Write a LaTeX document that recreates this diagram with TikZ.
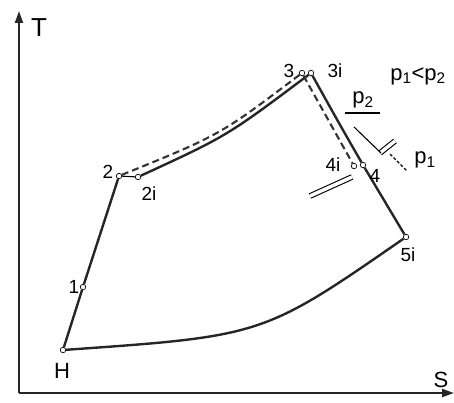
\documentclass[tikz,border=0pt]{standalone}
\usepackage{fontspec}
\setmainfont{Liberation Sans}
\usetikzlibrary{arrows.meta,backgrounds}
\begin{document}
\begin{tikzpicture}[x=1pt,y=-1pt,
  pt/.style={circle,draw,fill=white,inner sep=0pt,minimum size=5.5pt,line width=0.7pt},
  lbl/.style={font=\fontsize{19}{19}\selectfont,inner sep=0pt},
  big/.style={font=\fontsize{22}{22}\selectfont,inner sep=0pt},
  curve/.style={line width=2.4pt,draw=black!85},
  dcurve/.style={line width=2.1pt,draw=black!80,dash pattern=on 7pt off 4pt},
  axis/.style={line width=2pt,draw=black!85,-{Triangle[length=12pt,width=8pt]}},
  iso/.style={double distance=3.5pt,line width=1.1pt},
  thinl/.style={line width=1.1pt},
  leader/.style={line width=1.1pt,dash pattern=on 3pt off 2pt}]
\useasboundingbox (0,0) rectangle (454,403);
% points
\node[pt] (H) at (63,350) {};
\node[pt] (n1) at (83,287) {};
\node[pt] (n2) at (119,176) {};
\node[pt] (n2i) at (138,177) {};
\node[pt] (n3) at (302,73) {};
\node[pt] (n3i) at (311,73) {};
\node[pt] (n4i) at (354,166) {};
\node[pt] (n4) at (363,165) {};
\node[pt] (n5i) at (406,237) {};
% helper coordinates
\coordinate (O) at (19,393);
\coordinate (Ty) at (19,11);
\coordinate (Sx) at (454,393);
\coordinate (a1) at (310,196);
\coordinate (a2) at (352,177);
\coordinate (b1) at (380,153);
\coordinate (b2) at (395,141);
\coordinate (c1) at (354,127);
\coordinate (c2) at (381,153);
\coordinate (d1) at (390,154);
\coordinate (d2) at (407,171);
\coordinate (u1) at (345,113);
\coordinate (u2) at (380,113);
\begin{scope}[on background layer]
\draw[axis] (O) -- (Ty);
\draw[axis] (O) -- (Sx);
\draw[curve] (H) -- (n1);
\draw[curve] (n1) -- (n2);
\draw[thinl] (n2) -- (n2i);
\draw[curve] (n2i) .. controls (227,136) .. (n3i);
\draw[dcurve] (n2) .. controls (220,135) .. (n3);
\draw[dcurve] (n3) -- (n4i);
\draw[curve] (n3i) .. controls (340,125) .. (n4);
\draw[curve] (n4) -- (n5i);
\draw[curve] (H) .. controls (263,336) .. (n5i);
\draw[iso] (a1) -- (a2);
\draw[iso] (b1) -- (b2);
\draw[thinl] (c1) -- (c2);
\draw[leader] (d1) -- (d2);
\draw[thinl] (u1) -- (u2);
\end{scope}
% labels
\node[font=\fontsize{26}{26}\selectfont,inner sep=0pt] (tT) at (39,28) {T};
\node[big] (tS) at (441,380) {S};
\node[big] (tH) at (62,371) {H};
\node[lbl] (t1) at (74,287) {1};
\node[lbl] (t2) at (108,172) {2};
\node[lbl] (t2i) at (149,194) {2i};
\node[lbl] (t3) at (289,71) {3};
\node[lbl] (t3i) at (335,71) {3i};
\node[lbl] (t4i) at (333,165) {4i};
\node[lbl] (t4) at (375,176) {4};
\node[lbl] (t5i) at (408,255) {5i};
\node[big] (tp2) at (363,100) {p\textsubscript{2}};
\node[big] (tp12) at (418,76) {p\textsubscript{1}<p\textsubscript{2}};
\node[big] (tp1) at (425,160) {p\textsubscript{1}};
\end{tikzpicture}
\end{document}
